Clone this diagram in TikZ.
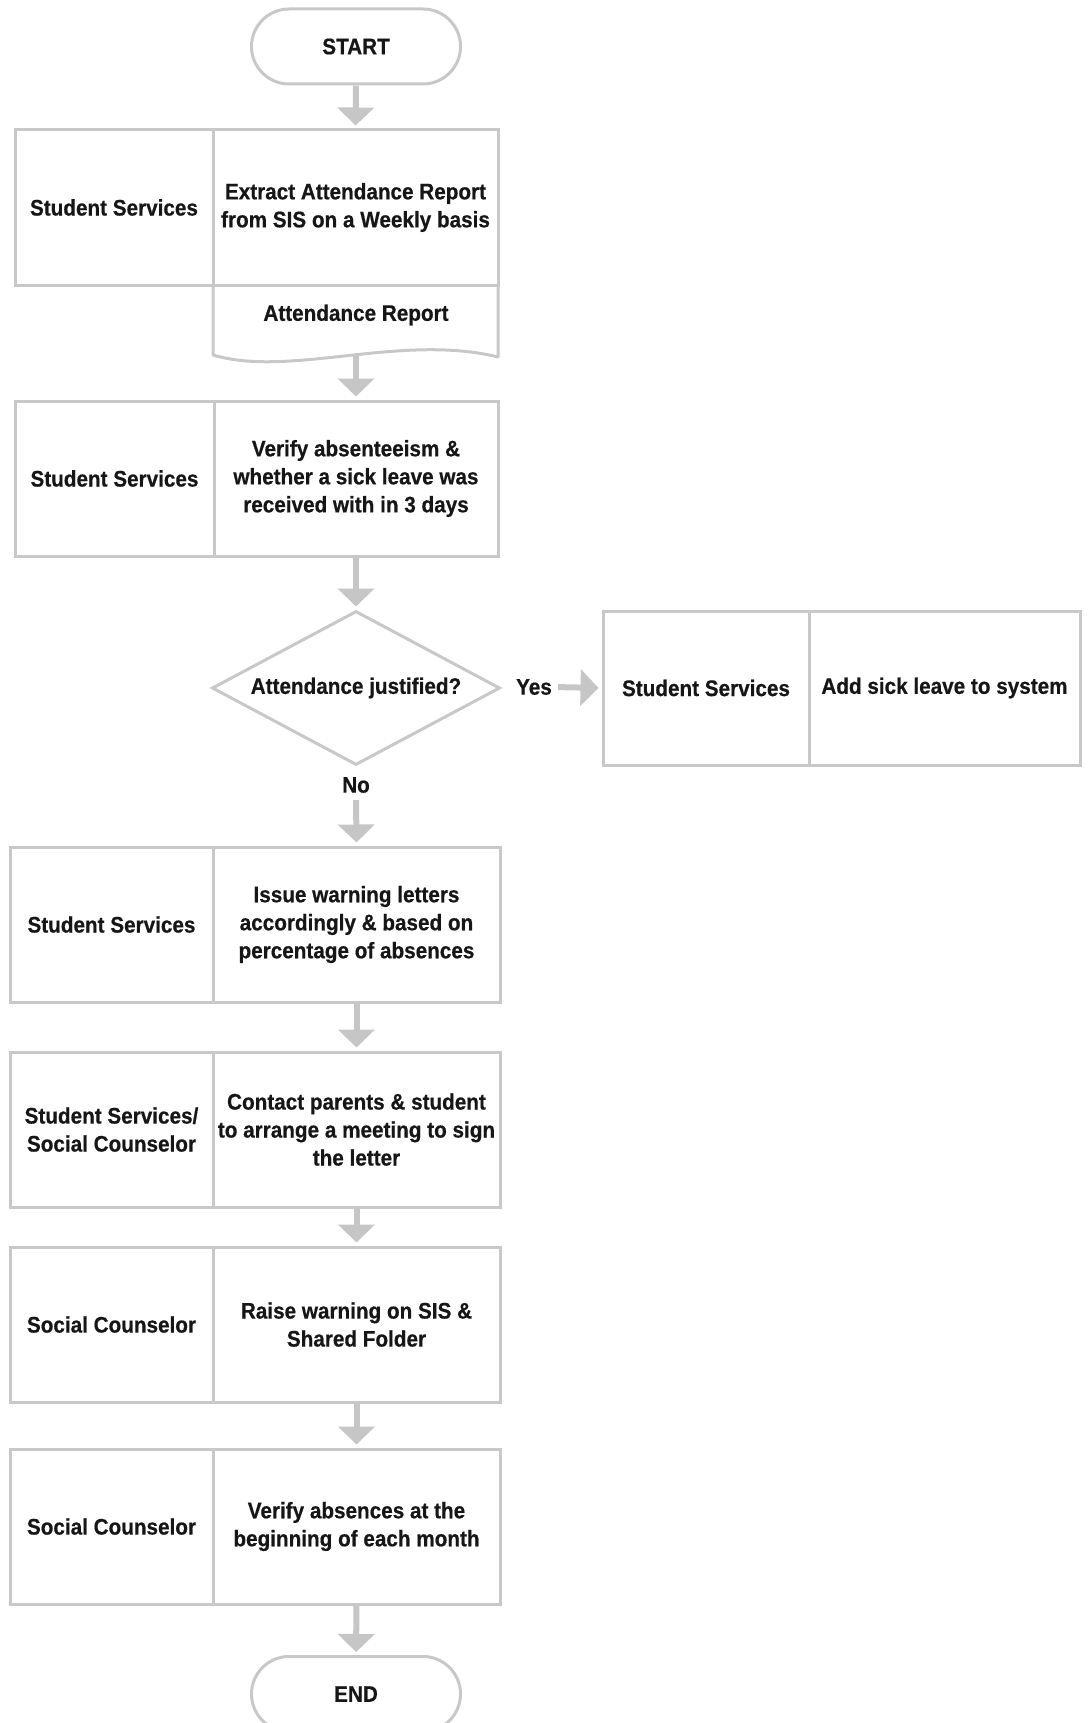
\documentclass[tikz,border=0pt]{standalone}
\usepackage{fontspec}
\setmainfont{Liberation Sans}[FakeStretch=0.92, FakeBold=0.5]
\usetikzlibrary{arrows.meta,shapes.geometric,shapes.misc}
\definecolor{linegray}{HTML}{C8C8C8}
\definecolor{arrowgray}{HTML}{C6C6C6}
\definecolor{ink}{HTML}{161616}
\begin{document}
\begin{tikzpicture}[x=1pt,y=-1pt,
  every node/.style={font=\fontsize{22.5}{28}\selectfont\bfseries, text=ink, inner sep=0pt, align=center},
  cell/.style={draw=linegray, line width=3pt, rectangle, minimum height=155pt},
  term/.style={draw=linegray, line width=3pt, rounded rectangle, minimum width=209pt, minimum height=75pt},
  decide/.style={draw=linegray, line width=3pt, diamond, aspect=1.87, minimum width=288pt, minimum height=154pt},
  flow/.style={draw=arrowgray, line width=6pt, -{Triangle[width=36pt,length=18pt]}, shorten >=3pt},
  label/.style={inner sep=2pt}]
\useasboundingbox (0,0) rectangle (1089,1723);

% start terminal
\node[term] (start) at (356,46.5) {START};

% step 1: extract report, with its document output
\node[cell, minimum width=198pt] (r1) at (114,207.5) {Student Services};
\node[cell, minimum width=285pt] (t1) at (355.5,207.5) {Extract Attendance Report\\from SIS on a Weekly basis};
\draw[linegray, line width=3pt, line join=round]
  (213,285) -- (213,355) .. controls (290,378) and (400,333) .. (498,357) -- (498,285);
\node (doc) at (356,315) {Attendance Report};
\coordinate (docb) at (356,354);

% step 2: verification
\node[cell, minimum width=199pt] (r2) at (114.5,478.5) {Student Services};
\node[cell, minimum width=284pt] (t2) at (356,478.5) {Verify absenteeism \&\\whether a sick leave was\\received with in 3 days};

% decision
\node[decide] (dec) at (356,688) {Attendance justified?};
\node[label] (yes) at (534,687) {Yes};
\node[label] (no) at (356,785) {No};

% justified branch
\node[cell, minimum width=206pt, minimum height=154pt] (ry) at (706,688) {Student Services};
\node[cell, minimum width=271pt, minimum height=154pt] (ty) at (944.5,688) {Add sick leave to system};

% step 3: warning letters
\node[cell, minimum width=203pt] (r3) at (111.5,924.5) {Student Services};
\node[cell, minimum width=287pt] (t3) at (356.5,924.5) {Issue warning letters\\accordingly \& based on\\percentage of absences};

% step 4: meeting
\node[cell, minimum width=203pt] (r4) at (111.5,1129.5) {Student Services/\\Social Counselor};
\node[cell, minimum width=287pt] (t4) at (356.5,1129.5) {Contact parents \& student\\to arrange a meeting to sign\\the letter};

% step 5: raise warning
\node[cell, minimum width=203pt] (r5) at (111.5,1324.5) {Social Counselor};
\node[cell, minimum width=287pt] (t5) at (356.5,1324.5) {Raise warning on SIS \&\\Shared Folder};

% step 6: monthly check
\node[cell, minimum width=203pt] (r6) at (111.5,1526.5) {Social Counselor};
\node[cell, minimum width=287pt] (t6) at (356.5,1526.5) {Verify absences at the\\beginning of each month};

% end terminal
\node[term] (end) at (356,1694) {END};

% connectors
\draw[flow] (start.south) -- (t1.north);
\draw[flow] (docb) -- (t2.north);
\draw[flow] (t2.south) -- (dec.north);
\draw[flow, shorten <=4pt] (yes.east) -- (ry.west);
\draw[flow, shorten <=5pt] (no.south) -- (t3.north);
\draw[flow] (t3.south) -- (t4.north);
\draw[flow] (t4.south) -- (t5.north);
\draw[flow] (t5.south) -- (t6.north);
\draw[flow] (t6.south) -- (end.north);
\end{tikzpicture}
\end{document}
